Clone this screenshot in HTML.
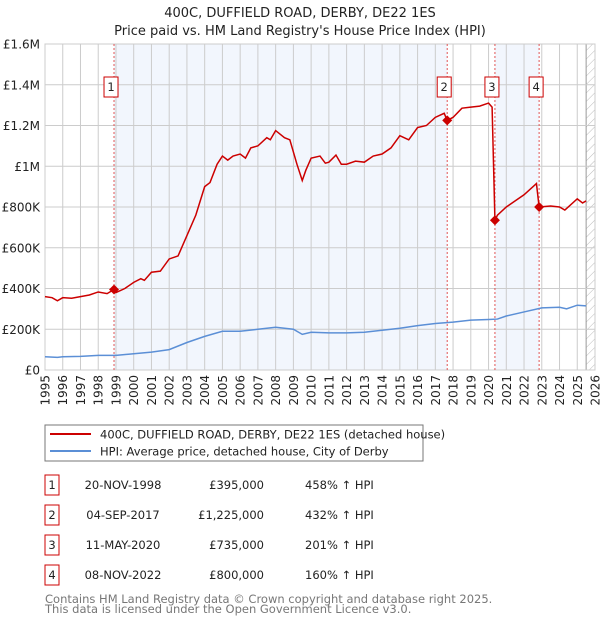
<!DOCTYPE html>
<html><head><meta charset="utf-8"><style>
body{margin:0;background:#fff;}
svg{display:block;font-family:"DejaVu Sans","Liberation Sans",sans-serif;}
</style></head><body>
<svg id="chart" width="600" height="620" viewBox="0 0 600 620">
<text x="300" y="17" text-anchor="middle" font-size="13" fill="#222">400C, DUFFIELD ROAD, DERBY, DE22 1ES</text>
<text x="300" y="35" text-anchor="middle" font-size="13" fill="#222">Price paid vs. HM Land Registry's House Price Index (HPI)</text>
<defs><pattern id="hatch" width="6" height="6" patternUnits="userSpaceOnUse" patternTransform="rotate(45)"><line x1="0" y1="0" x2="0" y2="6" stroke="#bbb" stroke-width="1"/></pattern></defs>
<g id="plot"></g>
<g id="legend">
<rect x="45" y="425" width="378" height="36" fill="#fff" stroke="#777"/>
<line x1="50" y1="434" x2="91" y2="434" stroke="#cc0000" stroke-width="2"/>
<text x="100" y="438.5" font-size="11.5" fill="#222">400C, DUFFIELD ROAD, DERBY, DE22 1ES (detached house)</text>
<line x1="50" y1="451" x2="91" y2="451" stroke="#5b8fd6" stroke-width="2"/>
<text x="100" y="455.5" font-size="11.5" fill="#222">HPI: Average price, detached house, City of Derby</text>
</g>
<g id="table" font-size="11.5" fill="#222"></g>
<text x="45" y="603" font-size="11.5" fill="#777">Contains HM Land Registry data © Crown copyright and database right 2025.</text>
<text x="45" y="613" font-size="11.5" fill="#777">This data is licensed under the Open Government Licence v3.0.</text>
</svg>
<script>
const yTicks=[0,200000,400000,600000,800000,1000000,1200000,1400000,1600000];
const yTickLabels=["£0","£200K","£400K","£600K","£800K","£1M","£1.2M","£1.4M","£1.6M"];
const xYears=[1995,1996,1997,1998,1999,2000,2001,2002,2003,2004,2005,2006,2007,2008,2009,2010,2011,2012,2013,2014,2015,2016,2017,2018,2019,2020,2021,2022,2023,2024,2025,2026];
const priceT=[1995,1995.4,1995.7,1996,1996.5,1997,1997.5,1998,1998.5,1998.89,1999,1999.5,2000,2000.4,2000.6,2001,2001.5,2002,2002.5,2003,2003.5,2004,2004.3,2004.7,2005,2005.3,2005.6,2006,2006.3,2006.6,2007,2007.5,2007.7,2008,2008.5,2008.8,2009.2,2009.5,2009.7,2010,2010.5,2010.8,2011,2011.4,2011.7,2012,2012.5,2013,2013.5,2014,2014.5,2015,2015.5,2016,2016.5,2017,2017.5,2017.67,2018,2018.5,2019,2019.5,2020,2020.2,2020.36,2020.5,2021,2021.5,2022,2022.7,2022.85,2023.5,2024,2024.3,2025,2025.3,2025.5];
const priceV=[360000,355000,340000,355000,352000,360000,368000,383000,375000,395000,380000,400000,430000,448000,440000,480000,485000,545000,560000,660000,760000,900000,920000,1010000,1050000,1030000,1050000,1060000,1040000,1090000,1100000,1140000,1130000,1175000,1140000,1130000,1010000,930000,980000,1040000,1050000,1015000,1020000,1055000,1010000,1010000,1025000,1020000,1050000,1060000,1090000,1150000,1130000,1190000,1200000,1240000,1260000,1225000,1240000,1285000,1290000,1295000,1310000,1290000,735000,760000,800000,830000,860000,915000,800000,805000,800000,785000,840000,820000,830000];
const hpiT=[1995,1995.7,1996,1997,1998,1999,2000,2001,2002,2003,2004,2005,2006,2007,2008,2009,2009.5,2010,2011,2012,2013,2014,2015,2016,2017,2018,2019,2020,2020.5,2021,2022,2023,2024,2024.4,2025,2025.5];
const hpiV=[65000,62000,65000,67000,72000,72000,80000,88000,100000,135000,165000,190000,190000,200000,210000,200000,175000,185000,182000,182000,185000,195000,205000,218000,228000,235000,245000,248000,250000,265000,285000,305000,308000,300000,318000,315000];
const saleT=[1998.89,2017.67,2020.36,2022.85];
const saleV=[395000,1225000,735000,800000];
const saleLabels=["1","2","3","4"];
const saleDates=["20-NOV-1998","04-SEP-2017","11-MAY-2020","08-NOV-2022"];
const salePrices=["£395,000","£1,225,000","£735,000","£800,000"];
const saleHpi=["458% ↑ HPI","432% ↑ HPI","201% ↑ HPI","160% ↑ HPI"];

const NS="http://www.w3.org/2000/svg";
const L=45,R=595,T=44,B=370;
const x=t=>L+(t-1995)/(2026-1995)*(R-L);
const y=v=>B-v/1600000*(B-T);
const g=document.getElementById('plot');
function mk(tag,attrs,parent){const e=document.createElementNS(NS,tag);for(const k in attrs)e.setAttribute(k,attrs[k]);(parent||g).appendChild(e);return e;}

// shaded bands
for(let i=0;i<saleT.length;i+=2){
 const r=mk('rect',{x:x(saleT[i]),y:T,width:x(saleT[i+1])-x(saleT[i]),height:B-T,fill:'#eef3fc',opacity:0.75});
 
 
}
const hx=x(2025.5);
const hr=mk('rect',{x:hx,y:T,width:R-hx,height:B-T,fill:'url(#hatch)'});


mk('line',{x1:hx,y1:T,x2:hx,y2:B,stroke:'#999'});
// grid
xYears.forEach(t=>{
 const l=mk('line',{x1:x(t),y1:T,x2:x(t),y2:B,stroke:'#ccc','stroke-width':1});
 
 
 const tx=mk('text',{x:0,y:0,'font-size':12,fill:'#222','text-anchor':'end',transform:`translate(${x(t)+4.5},${B+5}) rotate(-90)`});
 tx.textContent=t;
 
 
});
yTicks.forEach((v,i)=>{
 const l=mk('line',{x1:L,y1:y(v),x2:R,y2:y(v),stroke:'#ccc','stroke-width':1});
 
 
 const tx=mk('text',{x:40,y:y(v)+4.5,'font-size':12,fill:'#222','text-anchor':'end'});
 tx.textContent=yTickLabels[i];
 
 
});
mk('rect',{x:L,y:T,width:R-L,height:B-T,fill:'none',stroke:'#ccc'});
// sale lines
saleT.forEach((t,i)=>{
 const l=mk('line',{x1:x(t),y1:T,x2:x(t),y2:B,stroke:'#e05555','stroke-width':1,'stroke-dasharray':'2,2'});
 
 
});
// series
const hp=mk('polyline',{points:hpiT.map((t,i)=>x(t)+','+y(hpiV[i])).join(' '),fill:'none',stroke:'#5b8fd6','stroke-width':1.5});


const pp=mk('polyline',{points:priceT.map((t,i)=>x(t)+','+y(priceV[i])).join(' '),fill:'none',stroke:'#cc0000','stroke-width':1.5});


saleT.forEach((t,i)=>{
 const cx=x(t),cy=y(saleV[i]);
 const d=mk('polygon',{points:`${cx},${cy-5} ${cx+5},${cy} ${cx},${cy+5} ${cx-5},${cy}`,fill:'#cc0000'});
 
 
 const b=mk('rect',{x:cx-10,y:77,width:14,height:20,fill:'#fff',stroke:'#cc0000'});
 
 
 const tx=mk('text',{x:cx-3,y:91,'font-size':11.5,fill:'#222','text-anchor':'middle'});
 tx.textContent=saleLabels[i];
 
 
});
// table
const tb=document.getElementById('table');
saleLabels.forEach((s,i)=>{
 const yy=475+i*30;
 const b=mk('rect',{x:45,y:yy,width:14,height:20,fill:'#fff',stroke:'#cc0000'},tb);
 
 
 const cells=[[52,s,'middle'],[123,saleDates[i],'middle'],[264,salePrices[i],'end'],[305,saleHpi[i],'start']];
 cells.forEach(c=>{
  const tx=mk('text',{x:c[0],y:yy+14,'text-anchor':c[2]},tb);
  tx.textContent=c[1];
  
  
 });
});
</script>
</body></html>
